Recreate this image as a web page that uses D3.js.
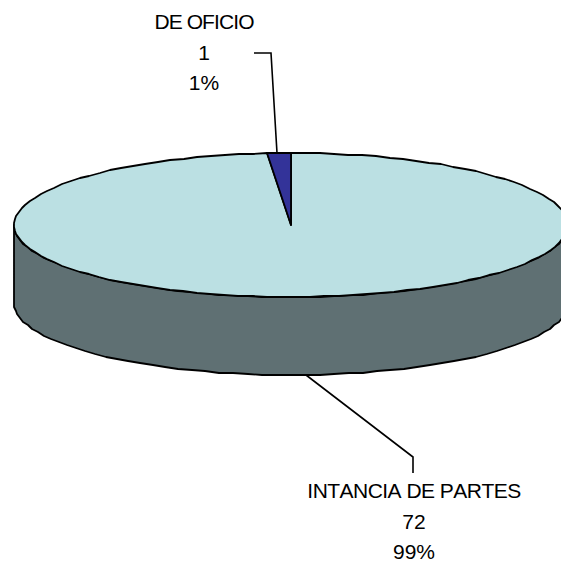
<!DOCTYPE html>
<html>
<head>
<meta charset="utf-8">
<script src="https://cdn.jsdelivr.net/npm/d3@7"></script>
<style>
  html, body { margin: 0; padding: 0; background: #fff; overflow: hidden; }
  text { font-family: "Liberation Sans", Arial, sans-serif; font-size: 21px; fill: #000; text-anchor: middle; font-kerning: none; }
</style>
</head>
<body>
<svg id="root" width="561" height="562"></svg>
<script>
const categories = ['INTANCIA DE PARTES', 'DE OFICIO'];
const values = [72, 1];
const percents = ['99%', '1%'];
const colors = ['#BBE0E3', '#333399'];
const sideColor = '#5F7073';

const svg = d3.select('#root');

const cx = 291, cy = 225, rx = 277, ry = 72, depth = 78;

// the original is a flat polygon pie, so sample the rim coarsely
const rim = angle => [cx + rx * Math.sin(angle), cy - ry * Math.cos(angle)];
const line = d3.line().x(d => Math.round(d[0])).y(d => Math.round(d[1]));
const angleStep = Math.PI / 60;

const sampleAngles = (a0, a1) => {
  const n = Math.max(1, Math.ceil((a1 - a0) / angleStep));
  return d3.range(n + 1).map(i => a0 + (a1 - a0) * i / n);
};

const arcs = d3.pie().sort(null).value(d => d)(values);

// Side wall (front half of the disc)
const front = sampleAngles(Math.PI / 2, Math.PI * 3 / 2).map(rim);
const wall = front.concat(front.slice().reverse().map(([x, y]) => [x, y + depth]));
svg.append('path')
  .attr('d', line(wall) + 'Z')
  .attr('fill', sideColor)
  .attr('stroke', '#000')
  .attr('stroke-width', 1.8)
  .attr('stroke-linejoin', 'round');

// Top face slices
svg.selectAll('.slice')
  .data(arcs)
  .enter()
  .append('path')
  .attr('class', 'slice')
  .attr('d', d => line([[cx, cy]].concat(sampleAngles(d.startAngle, d.endAngle).map(rim))) + 'Z')
  .attr('fill', (_, i) => colors[i])
  .attr('stroke', '#000')
  .attr('stroke-width', 1.8)
  .attr('stroke-linejoin', 'round');

// Leader lines
const leaders = [
  [[306, 375], [413, 457], [413, 473]],
  [[254, 53], [271, 53], [277, 153]],
];
svg.selectAll('.leader')
  .data(leaders)
  .enter()
  .append('path')
  .attr('class', 'leader')
  .attr('d', d3.line())
  .attr('fill', 'none')
  .attr('stroke', '#000')
  .attr('stroke-width', 1.6);

// Data labels
const labelPos = [
  { x: 414, y: 498, spacing: -0.53 },
  { x: 204, y: 29, spacing: -0.9 },
];
categories.forEach((name, i) => {
  const { x, y, spacing } = labelPos[i];
  [name, values[i], percents[i]].forEach((t, j) => {
    svg.append('text')
      .attr('x', x)
      .attr('y', y + j * 30.5)
      .attr('letter-spacing', j === 0 ? spacing : 0)
      .text(t);
  });
});
</script>
</body>
</html>
